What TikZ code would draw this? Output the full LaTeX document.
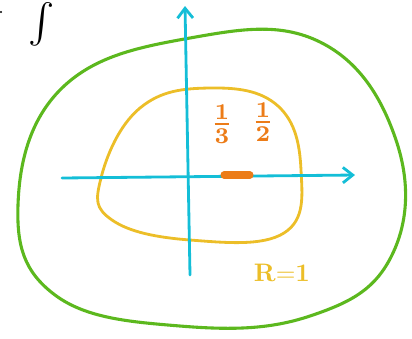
\documentclass[tikz,border=0pt]{standalone}
\usepackage{amsmath}
\usetikzlibrary{arrows.meta}
\definecolor{skgreen}{RGB}{92,184,30}
\definecolor{skyellow}{RGB}{236,190,40}
\definecolor{skcyan}{RGB}{20,190,215}
\definecolor{skorange}{RGB}{236,124,24}
\begin{document}
\begin{tikzpicture}[x=0.025cm, y=-0.025cm, line cap=round, line join=round,
  every node/.style={inner sep=0pt}]
  \useasboundingbox (0,0) rectangle (412,338);
  % outer and inner curves
  \draw[skgreen, line width=2.2pt] plot[smooth cycle, tension=0.7] coordinates {
    (18,205) (62,88) (190,38) (320,42) (396,140) (392,255)
    (310,316) (180,326) (55,295)};
  \draw[skyellow, line width=2pt] plot[smooth cycle, tension=0.7] coordinates {
    (101,178) (140,108) (210,88) (278,106) (301,170) (284,233)
    (190,240) (112,220)};
  % axes
  \coordinate (xs) at (62,178); \coordinate (xe) at (355,175);
  \coordinate (ys) at (190,275); \coordinate (ye) at (185,6);
  \draw[skcyan, line width=2pt, -{Straight Barb[length=7pt,width=11pt]}] (xs) -- (xe);
  \draw[skcyan, line width=2pt, -{Straight Barb[length=7pt,width=11pt]}] (ys) -- (ye);
  % marks and labels
  \draw[skorange, line width=5pt] (224,175) -- (250,175);
  \node[skorange, scale=2.3] (third) at (222,124) {$\mathbf{\frac{1}{3}}$};
  \node[skorange, scale=2.3] (half) at (263,122) {$\mathbf{\frac{1}{2}}$};
  \node[skyellow, scale=1.8] (rad) at (282,273) {$\mathbf{R{=}1}$};
  \node[scale=2.8, anchor=north] (intg) at (42,2) {$\int$};
  \fill (1,12) circle (1.2);
\end{tikzpicture}
\end{document}
